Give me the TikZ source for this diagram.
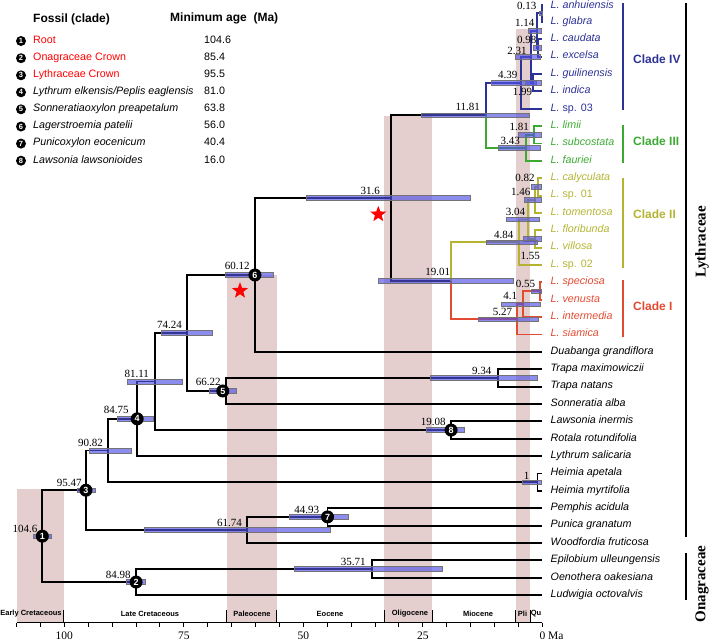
\documentclass[tikz,border=0pt]{standalone}
\usepackage{fontspec}
\setmainfont{Liberation Serif}
\setsansfont{Liberation Sans}
\usetikzlibrary{shapes.geometric}
\definecolor{cIV}{RGB}{45,50,150}
\definecolor{cIII}{RGB}{60,170,50}
\definecolor{cII}{RGB}{180,180,50}
\definecolor{cI}{RGB}{225,75,50}
\definecolor{shadecol}{RGB}{228,206,206}
\definecolor{hpdcol}{RGB}{80,80,230}
\newcommand\X[1]{542.3-4.78*#1}
\newcommand\hpdrect[3]{\path[hpdbar] (#2,#1-2.3) rectangle (#3,#1+2.3);}
\begin{document}
\begin{tikzpicture}[x=1pt,y=-1pt,
  br/.style={line width=1.9pt},
  hpdbar/.style={fill=hpdcol, fill opacity=0.65, draw=black!55, line width=0.6pt},
  agelab/.style={font=\fontsize{11}{11}\selectfont, inner sep=0pt},
  tiplab/.style={font=\sffamily\itshape\fontsize{10.7}{12}\selectfont, anchor=mid west, inner sep=0pt},
  legtxt/.style={font=\sffamily\fontsize{10.7}{12}\selectfont, anchor=mid west, inner sep=0pt},
  fosnode/.style={circle, fill=black, inner sep=0pt, minimum size=13pt, text=white, font=\sffamily\bfseries\fontsize{9}{9}\selectfont},
  legnum/.style={circle, fill=black, inner sep=0pt, minimum size=10pt, text=white, font=\sffamily\bfseries\fontsize{7.5}{7.5}\selectfont},
  cladelab/.style={font=\sffamily\bfseries\fontsize{12}{12}\selectfont, anchor=mid west, inner sep=0pt},
  epochlab/.style={font=\sffamily\bfseries\fontsize{7.5}{8}\selectfont, inner sep=0pt},
  axnum/.style={font=\fontsize{11.5}{11.5}\selectfont, inner sep=0pt},
  famlab/.style={font=\bfseries\fontsize{15}{15}\selectfont, rotate=90, inner sep=0pt},
  redstar/.style={star, star points=5, star point ratio=2.4, fill=red, inner sep=0pt, minimum size=17pt}
]
\useasboundingbox (0,0) rectangle (709,641);
% geological shading
\fill[shadecol] (16.7,489) rectangle (64.3,622.7);
\fill[shadecol] (226.8,275) rectangle (276.7,622.7);
\fill[shadecol] (384,116) rectangle (432.4,622.7);
\fill[shadecol] (516,29) rectangle (530,622.7);

% axis
\draw[line width=1pt] (16.7,622.7) -- (542.3,622.7);
\foreach \t in {0,5,...,110} \draw[line width=1pt] ({\X{\t}},622.7) -- ++(0,4.5);
\foreach \xx in {63.5,226.3,276.7,384,432.3,515.7,530.3} \draw[line width=1pt] (\xx,622.7) -- ++(0,-12.5);
\node[axnum] (ax100) at ({\X{100}},635.3) {100};
\node[axnum] (ax75) at ({\X{75}},635.3) {75};
\node[axnum] (ax50) at ({\X{50}},635.3) {50};
\node[axnum] (ax25) at ({\X{25}},635.3) {25};
\node[axnum, anchor=west] (ax0) at (539.3,635.3) {0 Ma};
\node[epochlab] (ep1) at (31,614) {Early Cretaceous};
\node[epochlab] (ep2) at (150,614) {Late Cretaceous};
\node[epochlab] (ep3) at (252,614) {Paleocene};
\node[epochlab] (ep4) at (330,614) {Eocene};
\node[epochlab] (ep5) at (410,614) {Oligocene};
\node[epochlab] (ep6) at (478,614) {Miocene};
\node[epochlab] (ep7) at (522.5,614) {Pli};
\node[epochlab] (ep8) at (536,614) {Qu};

% tips
\foreach \i/\c/\txt in {1/cIV/{L. anhuiensis},2/cIV/{L. glabra},3/cIV/{L. caudata},4/cIV/{L. excelsa},5/cIV/{L. guilinensis},6/cIV/{L. indica},7/cIV/{L. \textup{sp. 03}},
  8/cIII/{L. limii},9/cIII/{L. subcostata},10/cIII/{L. fauriei},
  11/cII/{L. calyculata},12/cII/{L. \textup{sp. 01}},13/cII/{L. tomentosa},14/cII/{L. floribunda},15/cII/{L. villosa},16/cII/{L. \textup{sp. 02}},
  17/cI/{L. speciosa},18/cI/{L. venusta},19/cI/{L. intermedia},20/cI/{L. siamica},
  21/black/{Duabanga grandiflora},22/black/{Trapa maximowiczii},23/black/{Trapa natans},24/black/{Sonneratia alba},25/black/{Lawsonia inermis},26/black/{Rotala rotundifolia},27/black/{Lythrum salicaria},28/black/{Heimia apetala},29/black/{Heimia myrtifolia},30/black/{Pemphis acidula},31/black/{Punica granatum},32/black/{Woodfordia fruticosa},33/black/{Epilobium ulleungensis},34/black/{Oenothera oakesiana},35/black/{Ludwigia octovalvis}}
{
  \coordinate (t\i) at (542.3,{4.5+(\i-1)*17.37});
  \node[tiplab, text=\c] (l\i) at (550.5,{max(6,4.5+(\i-1)*17.37)}) {\txt};
}

% internal nodes
\coordinate (n1) at ({\X{104.6}},536.14);
\coordinate (n2) at ({\X{84.98}},582.05);
\coordinate (n3571) at ({\X{35.71}},569.03);
\coordinate (n3) at ({\X{95.47}},490.22);
\coordinate (n6174) at ({\X{61.74}},529.94);
\coordinate (n7) at ({\X{44.93}},516.92);
\coordinate (n9082) at ({\X{90.82}},450.5);
\coordinate (nhei) at ({\X{1}},482.18);
\coordinate (n4) at ({\X{84.75}},418.82);
\coordinate (n8111) at ({\X{81.11}},381.52);
\coordinate (n8) at ({\X{19.08}},430.07);
\coordinate (n7424) at ({\X{74.24}},332.97);
\coordinate (n5) at ({\X{66.22}},390.98);
\coordinate (n934) at ({\X{9.34}},377.96);
\coordinate (n6) at ({\X{60.12}},274.96);
\coordinate (n316) at ({\X{31.6}},198.01);
\coordinate (n1181) at ({\X{11.81}},115.23);
\coordinate (n439) at ({\X{4.39}},82.66);
\coordinate (n231) at ({\X{2.31}},56.6);
\coordinate (n114) at ({\X{1.14}},30.56);
\coordinate (n013) at ({\X{0.13}},13.19);
\coordinate (n098) at ({\X{0.98}},47.93);
\coordinate (n199) at ({\X{1.99}},82.67);
\coordinate (n343) at ({\X{3.43}},147.8);
\coordinate (n181) at ({\X{1.81}},134.78);
\coordinate (n1901) at ({\X{19.01}},280.79);
\coordinate (n484) at ({\X{4.84}},242.25);
\coordinate (n304) at ({\X{3.04}},219.45);
\coordinate (n146) at ({\X{1.46}},199.9);
\coordinate (n082) at ({\X{0.82}},186.89);
\coordinate (n155) at ({\X{1.55}},239.0);
\coordinate (n527) at ({\X{5.27}},319.33);
\coordinate (n41) at ({\X{4.1}},304.13);
\coordinate (n055) at ({\X{0.55}},291.1);

% branches
\foreach \p/\c in {n1/n3,n1/n2,n2/n3571,n2/t35,n3571/t33,n3571/t34,n3/n9082,n3/n6174,n6174/n7,n6174/t32,n7/t30,n7/t31,n9082/n4,n9082/nhei,nhei/t28,nhei/t29,n4/n8111,n4/t27,n8111/n7424,n8111/n8,n8/t25,n8/t26,n7424/n6,n7424/n5,n5/n934,n5/t24,n934/t22,n934/t23,n6/n316,n6/t21,n316/n1181,n316/n1901}
  \draw[br] (\p) |- (\c);
\foreach \p/\c in {n1181/n439,n439/n231,n439/t7,n231/n114,n231/n199,n114/n013,n114/n098,n013/t1,n013/t2,n098/t3,n098/t4,n199/t5,n199/t6}
  \draw[br, cIV] (\p) |- (\c);
\foreach \p/\c in {n1181/n343,n343/n181,n343/t10,n181/t8,n181/t9}
  \draw[br, cIII] (\p) |- (\c);
\foreach \p/\c in {n1901/n484,n484/n304,n484/t16,n304/n146,n304/n155,n146/n082,n146/t13,n082/t11,n082/t12,n155/t14,n155/t15}
  \draw[br, cII] (\p) |- (\c);
\foreach \p/\c in {n1901/n527,n527/n41,n527/t20,n41/n055,n41/t19,n055/t17,n055/t18}
  \draw[br, cI] (\p) |- (\c);

% HPD bars
\hpdrect{536.14}{33.3}{51.7}
\hpdrect{490.22}{77.3}{95.7}
\hpdrect{450.5}{89.3}{131}
\hpdrect{418.82}{117.3}{153.3}
\hpdrect{381.52}{127.7}{182}
\hpdrect{332.97}{161.7}{212.7}
\hpdrect{390.98}{209.3}{236.7}
\hpdrect{274.96}{225.7}{273.7}
\hpdrect{529.94}{144.3}{330}
\hpdrect{516.92}{289.3}{348.3}
\hpdrect{582.05}{126.7}{145.7}
\hpdrect{569.03}{294.3}{442.7}
\hpdrect{198.01}{306.7}{470}
\hpdrect{280.79}{378.3}{513.3}
\hpdrect{115.23}{421}{529.3}
\hpdrect{377.96}{430}{537.3}
\hpdrect{430.07}{426.7}{464.3}
\hpdrect{482.18}{522.7}{541.7}
\hpdrect{82.66}{491}{536}
\hpdrect{82.67}{525}{541}
\hpdrect{56.6}{515}{540}
\hpdrect{30.56}{528}{541}
\hpdrect{47.93}{533}{541.7}
\hpdrect{13.19}{539.3}{541.9}
\hpdrect{134.78}{518.3}{541}
\hpdrect{147.8}{498.3}{540.7}
\hpdrect{186.89}{531.7}{541}
\hpdrect{199.9}{524.3}{541}
\hpdrect{219.45}{506.7}{539.3}
\hpdrect{239.0}{523.3}{541}
\hpdrect{242.25}{486}{537.3}
\hpdrect{291.1}{531.7}{541}
\hpdrect{304.13}{501}{540.7}
\hpdrect{319.33}{478.3}{538.3}

% fossil calibration circles
\node[fosnode] (f1) at (n1) {1};
\node[fosnode] (f2) at (n2) {2};
\node[fosnode] (f3) at (n3) {3};
\node[fosnode] (f4) at (n4) {4};
\node[fosnode, xshift=-3pt] (f5) at (n5) {5};
\node[fosnode] (f6) at (n6) {6};
\node[fosnode] (f7) at (n7) {7};
\node[fosnode] (f8) at (n8) {8};

% age labels
\node[agelab] (a1) at (25,529) {104.6};
\node[agelab] (a2) at (69.2,483.3) {95.47};
\node[agelab] (a3) at (90.5,442.7) {90.82};
\node[agelab] (a4) at (116.3,410) {84.75};
\node[agelab] (a5) at (136.7,374.3) {81.11};
\node[agelab] (a6) at (208.3,382.3) {66.22};
\node[agelab] (a7) at (118.3,575) {84.98};
\node[agelab] (a8) at (229.5,522.7) {61.74};
\node[agelab] (a9) at (169.5,325) {74.24};
\node[agelab] (a10) at (237.2,266) {60.12};
\node[agelab] (a11) at (370.3,190.7) {31.6};
\node[agelab] (a12) at (481.7,370.7) {9.34};
\node[agelab] (a13) at (433.3,422.3) {19.08};
\node[agelab] (a14) at (526.7,475.7) {1};
\node[agelab] (a15) at (306.7,510) {44.93};
\node[agelab] (a16) at (353.3,562.3) {35.71};
\node[agelab] (a17) at (526.7,5.5) {0.13};
\node[agelab] (a18) at (524.7,22.7) {1.14};
\node[agelab] (a19) at (526.7,40) {0.98};
\node[agelab] (a20) at (517,50.7) {2.31};
\node[agelab] (a21) at (507.8,75) {4.39};
\node[agelab] (a22) at (522.5,92.3) {1.99};
\node[agelab] (a23) at (467.7,107.3) {11.81};
\node[agelab] (a24) at (519.2,126.7) {1.81};
\node[agelab] (a25) at (510.2,140.7) {3.43};
\node[agelab] (a26) at (525,177.7) {0.82};
\node[agelab] (a27) at (520.8,192) {1.46};
\node[agelab] (a28) at (515.5,211.7) {3.04};
\node[agelab] (a29) at (503.8,235) {4.84};
\node[agelab] (a30) at (530.3,256) {1.55};
\node[agelab] (a31) at (437.7,271.7) {19.01};
\node[agelab] (a32) at (525.5,284) {0.55};
\node[agelab] (a33) at (510.3,296) {4.1};
\node[agelab] (a34) at (502.5,311.7) {5.27};

% stars
\node[redstar] (s1) at (378.3,214.3) {};
\node[redstar] (s2) at (240,290.7) {};

% clade brackets
\coordinate (c4a) at (623,3); \coordinate (c4b) at (623,110);
\coordinate (c3a) at (623,125); \coordinate (c3b) at (623,163.3);
\coordinate (c2a) at (623,177.7); \coordinate (c2b) at (623,268);
\coordinate (c1a) at (623,280); \coordinate (c1b) at (623,337.3);
\draw[line width=2.8pt, cIV] (c4a) -- (c4b);
\draw[line width=2.8pt, cIII] (c3a) -- (c3b);
\draw[line width=2.8pt, cII] (c2a) -- (c2b);
\draw[line width=2.8pt, cI] (c1a) -- (c1b);
\node[cladelab, text=cIV] (cl4) at (633,61) {Clade IV};
\node[cladelab, text=cIII] (cl3) at (633,142.7) {Clade III};
\node[cladelab, text=cII] (cl2) at (633,216) {Clade II};
\node[cladelab, text=cI] (cl1) at (633,308.3) {Clade I};

% family brackets
\coordinate (lya) at (686,3); \coordinate (lyb) at (686,537);
\coordinate (ona) at (686,553); \coordinate (onb) at (686,600);
\draw[line width=2.8pt] (lya) -- (lyb);
\draw[line width=2.8pt] (ona) -- (onb);
\node[famlab] (lyth) at (702,242) {Lythraceae};
\node[famlab] (onag) at (702,584) {Onagraceae};

% legend
\node[font=\sffamily\bfseries\fontsize{12}{12}\selectfont, anchor=mid west, inner sep=0pt] (hfos) at (33,20) {Fossil (clade)};
\node[font=\sffamily\bfseries\fontsize{12}{12}\selectfont, anchor=mid west, inner sep=0pt] (hmin) at (170,19) {Minimum age\ \ (Ma)};
\foreach \i/\yy/\c/\txt/\val in {1/41/red/{Root}/104.6, 2/58.2/red/{Onagraceae Crown}/85.4, 3/75.3/red/{Lythraceae Crown}/95.5,
  4/92.3/black/{\itshape Lythrum elkensis/Peplis eaglensis}/81.0, 5/109.3/black/{\itshape Sonneratiaoxylon preapetalum}/63.8,
  6/126.5/black/{\itshape Lagerstroemia patelii}/56.0, 7/143.6/black/{\itshape Punicoxylon eocenicum}/40.4, 8/160.7/black/{\itshape Lawsonia lawsonioides}/16.0}
{
  \node[legnum] (ln\i) at (21,\yy) {\i};
  \node[legtxt, text=\c] (lt\i) at (33,\yy) {\txt};
  \node[legtxt] (lv\i) at (204,\yy) {\val};
}
\end{tikzpicture}
\end{document}
